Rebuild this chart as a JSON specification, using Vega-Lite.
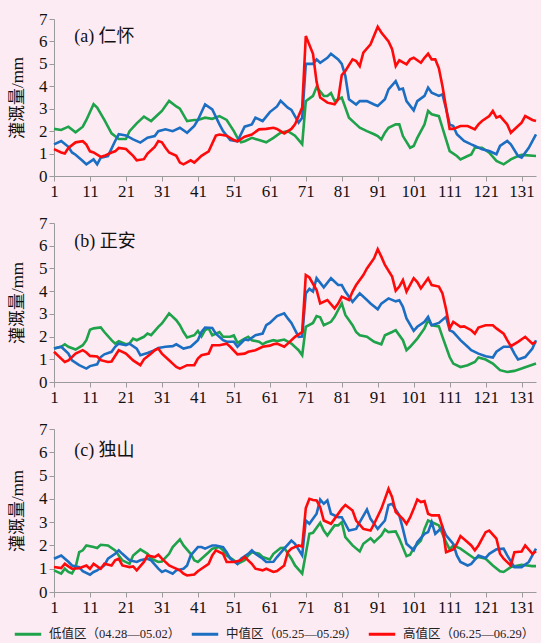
{
"$schema":"https://vega.github.io/schema/vega-lite/v6.json",
"background":"#fdebf4",
"padding":{"left":8,"top":10,"right":4,"bottom":6},
"spacing":15,
"config":{"view":{"stroke":null}},
"data":{"values":[
{"p":"a","s":"L","d":1,"v":2.1},{"p":"a","s":"L","d":3,"v":2.05},{"p":"a","s":"L","d":5,"v":2.2},{"p":"a","s":"L","d":7,"v":1.95},{"p":"a","s":"L","d":9,"v":2.2},{"p":"a","s":"L","d":10,"v":2.5},{"p":"a","s":"L","d":12,"v":3.2},{"p":"a","s":"L","d":13,"v":3.05},{"p":"a","s":"L","d":15,"v":2.5},{"p":"a","s":"L","d":16,"v":2.2},{"p":"a","s":"L","d":17,"v":1.9},{"p":"a","s":"L","d":19,"v":1.65},{"p":"a","s":"L","d":21,"v":1.65},{"p":"a","s":"L","d":22,"v":2.0},{"p":"a","s":"L","d":24,"v":2.35},{"p":"a","s":"L","d":26,"v":2.65},{"p":"a","s":"L","d":28,"v":2.45},{"p":"a","s":"L","d":30,"v":2.75},{"p":"a","s":"L","d":31,"v":2.9},{"p":"a","s":"L","d":33,"v":3.35},{"p":"a","s":"L","d":35,"v":3.1},{"p":"a","s":"L","d":36,"v":3.0},{"p":"a","s":"L","d":38,"v":2.45},{"p":"a","s":"L","d":40,"v":2.5},{"p":"a","s":"L","d":41,"v":2.5},{"p":"a","s":"L","d":43,"v":2.6},{"p":"a","s":"L","d":45,"v":2.55},{"p":"a","s":"L","d":47,"v":2.67},{"p":"a","s":"L","d":49,"v":2.5},{"p":"a","s":"L","d":51,"v":2.0},{"p":"a","s":"L","d":52,"v":1.7},{"p":"a","s":"L","d":53,"v":1.5},{"p":"a","s":"L","d":54,"v":1.55},{"p":"a","s":"L","d":56,"v":1.7},{"p":"a","s":"L","d":58,"v":1.6},{"p":"a","s":"L","d":60,"v":1.5},{"p":"a","s":"L","d":62,"v":1.7},{"p":"a","s":"L","d":64,"v":1.93},{"p":"a","s":"L","d":66,"v":2.0},{"p":"a","s":"L","d":68,"v":1.8},{"p":"a","s":"L","d":70,"v":1.42},{"p":"a","s":"L","d":71,"v":3.34},{"p":"a","s":"L","d":73,"v":3.57},{"p":"a","s":"L","d":74,"v":3.97},{"p":"a","s":"L","d":76,"v":3.57},{"p":"a","s":"L","d":77,"v":3.57},{"p":"a","s":"L","d":78,"v":3.7},{"p":"a","s":"L","d":79,"v":3.35},{"p":"a","s":"L","d":81,"v":3.5},{"p":"a","s":"L","d":82,"v":3.05},{"p":"a","s":"L","d":83,"v":2.6},{"p":"a","s":"L","d":85,"v":2.3},{"p":"a","s":"L","d":86,"v":2.15},{"p":"a","s":"L","d":88,"v":2.0},{"p":"a","s":"L","d":90,"v":1.86},{"p":"a","s":"L","d":91,"v":1.78},{"p":"a","s":"L","d":92,"v":1.63},{"p":"a","s":"L","d":93,"v":1.93},{"p":"a","s":"L","d":94,"v":2.15},{"p":"a","s":"L","d":96,"v":2.3},{"p":"a","s":"L","d":97,"v":2.3},{"p":"a","s":"L","d":98,"v":1.78},{"p":"a","s":"L","d":100,"v":1.26},{"p":"a","s":"L","d":101,"v":1.34},{"p":"a","s":"L","d":102,"v":1.7},{"p":"a","s":"L","d":104,"v":2.3},{"p":"a","s":"L","d":105,"v":2.9},{"p":"a","s":"L","d":106,"v":2.75},{"p":"a","s":"L","d":108,"v":2.67},{"p":"a","s":"L","d":109,"v":2.15},{"p":"a","s":"L","d":111,"v":1.11},{"p":"a","s":"L","d":113,"v":0.89},{"p":"a","s":"L","d":114,"v":0.74},{"p":"a","s":"L","d":116,"v":0.89},{"p":"a","s":"L","d":117,"v":0.96},{"p":"a","s":"L","d":118,"v":1.26},{"p":"a","s":"L","d":120,"v":1.26},{"p":"a","s":"L","d":122,"v":1.04},{"p":"a","s":"L","d":124,"v":0.67},{"p":"a","s":"L","d":126,"v":0.52},{"p":"a","s":"L","d":128,"v":0.74},{"p":"a","s":"L","d":130,"v":0.89},{"p":"a","s":"L","d":131,"v":0.94},{"p":"a","s":"L","d":135,"v":0.89},
{"p":"a","s":"M","d":1,"v":1.41},{"p":"a","s":"M","d":3,"v":1.56},{"p":"a","s":"M","d":5,"v":1.3},{"p":"a","s":"M","d":6,"v":1.05},{"p":"a","s":"M","d":7,"v":0.95},{"p":"a","s":"M","d":9,"v":0.67},{"p":"a","s":"M","d":10,"v":0.52},{"p":"a","s":"M","d":12,"v":0.74},{"p":"a","s":"M","d":13,"v":0.52},{"p":"a","s":"M","d":14,"v":0.82},{"p":"a","s":"M","d":16,"v":0.89},{"p":"a","s":"M","d":18,"v":1.56},{"p":"a","s":"M","d":19,"v":1.86},{"p":"a","s":"M","d":21,"v":1.81},{"p":"a","s":"M","d":23,"v":1.63},{"p":"a","s":"M","d":25,"v":1.49},{"p":"a","s":"M","d":27,"v":1.71},{"p":"a","s":"M","d":29,"v":1.78},{"p":"a","s":"M","d":30,"v":2.0},{"p":"a","s":"M","d":32,"v":2.08},{"p":"a","s":"M","d":34,"v":2.0},{"p":"a","s":"M","d":36,"v":2.15},{"p":"a","s":"M","d":38,"v":1.93},{"p":"a","s":"M","d":40,"v":2.23},{"p":"a","s":"M","d":41,"v":2.5},{"p":"a","s":"M","d":43,"v":3.19},{"p":"a","s":"M","d":45,"v":2.97},{"p":"a","s":"M","d":47,"v":2.3},{"p":"a","s":"M","d":48,"v":2.0},{"p":"a","s":"M","d":50,"v":1.6},{"p":"a","s":"M","d":52,"v":1.55},{"p":"a","s":"M","d":54,"v":2.2},{"p":"a","s":"M","d":56,"v":2.3},{"p":"a","s":"M","d":57,"v":2.6},{"p":"a","s":"M","d":59,"v":2.45},{"p":"a","s":"M","d":61,"v":2.85},{"p":"a","s":"M","d":63,"v":3.1},{"p":"a","s":"M","d":64,"v":3.35},{"p":"a","s":"M","d":66,"v":3.05},{"p":"a","s":"M","d":67,"v":2.95},{"p":"a","s":"M","d":69,"v":2.38},{"p":"a","s":"M","d":70,"v":2.6},{"p":"a","s":"M","d":71,"v":5.0},{"p":"a","s":"M","d":73,"v":5.0},{"p":"a","s":"M","d":74,"v":5.2},{"p":"a","s":"M","d":75,"v":5.05},{"p":"a","s":"M","d":77,"v":5.27},{"p":"a","s":"M","d":78,"v":5.45},{"p":"a","s":"M","d":80,"v":5.2},{"p":"a","s":"M","d":81,"v":5.0},{"p":"a","s":"M","d":82,"v":4.46},{"p":"a","s":"M","d":83,"v":3.42},{"p":"a","s":"M","d":85,"v":3.19},{"p":"a","s":"M","d":86,"v":3.34},{"p":"a","s":"M","d":88,"v":3.34},{"p":"a","s":"M","d":90,"v":3.19},{"p":"a","s":"M","d":91,"v":3.12},{"p":"a","s":"M","d":93,"v":3.42},{"p":"a","s":"M","d":94,"v":3.86},{"p":"a","s":"M","d":96,"v":4.23},{"p":"a","s":"M","d":97,"v":3.86},{"p":"a","s":"M","d":98,"v":3.9},{"p":"a","s":"M","d":99,"v":3.34},{"p":"a","s":"M","d":101,"v":2.93},{"p":"a","s":"M","d":102,"v":3.34},{"p":"a","s":"M","d":104,"v":3.57},{"p":"a","s":"M","d":105,"v":3.94},{"p":"a","s":"M","d":106,"v":3.71},{"p":"a","s":"M","d":108,"v":3.57},{"p":"a","s":"M","d":109,"v":3.64},{"p":"a","s":"M","d":110,"v":3.0},{"p":"a","s":"M","d":111,"v":2.3},{"p":"a","s":"M","d":112,"v":2.23},{"p":"a","s":"M","d":113,"v":1.86},{"p":"a","s":"M","d":115,"v":1.56},{"p":"a","s":"M","d":117,"v":1.41},{"p":"a","s":"M","d":118,"v":1.34},{"p":"a","s":"M","d":120,"v":1.19},{"p":"a","s":"M","d":122,"v":1.11},{"p":"a","s":"M","d":124,"v":0.97},{"p":"a","s":"M","d":125,"v":1.34},{"p":"a","s":"M","d":127,"v":1.56},{"p":"a","s":"M","d":128,"v":1.41},{"p":"a","s":"M","d":130,"v":0.89},{"p":"a","s":"M","d":131,"v":0.82},{"p":"a","s":"M","d":133,"v":1.26},{"p":"a","s":"M","d":135,"v":1.86},
{"p":"a","s":"H","d":1,"v":1.2},{"p":"a","s":"H","d":3,"v":1.05},{"p":"a","s":"H","d":4,"v":1.0},{"p":"a","s":"H","d":5,"v":1.25},{"p":"a","s":"H","d":7,"v":1.5},{"p":"a","s":"H","d":9,"v":1.55},{"p":"a","s":"H","d":10,"v":1.4},{"p":"a","s":"H","d":11,"v":1.1},{"p":"a","s":"H","d":12,"v":1.05},{"p":"a","s":"H","d":14,"v":0.85},{"p":"a","s":"H","d":15,"v":0.9},{"p":"a","s":"H","d":17,"v":1.05},{"p":"a","s":"H","d":18,"v":1.1},{"p":"a","s":"H","d":19,"v":1.25},{"p":"a","s":"H","d":21,"v":1.2},{"p":"a","s":"H","d":22,"v":1.05},{"p":"a","s":"H","d":23,"v":0.9},{"p":"a","s":"H","d":24,"v":0.7},{"p":"a","s":"H","d":26,"v":0.75},{"p":"a","s":"H","d":27,"v":1.0},{"p":"a","s":"H","d":29,"v":1.3},{"p":"a","s":"H","d":30,"v":1.56},{"p":"a","s":"H","d":31,"v":1.5},{"p":"a","s":"H","d":32,"v":1.26},{"p":"a","s":"H","d":33,"v":1.05},{"p":"a","s":"H","d":35,"v":0.9},{"p":"a","s":"H","d":36,"v":0.6},{"p":"a","s":"H","d":37,"v":0.52},{"p":"a","s":"H","d":39,"v":0.7},{"p":"a","s":"H","d":40,"v":0.6},{"p":"a","s":"H","d":41,"v":0.75},{"p":"a","s":"H","d":42,"v":0.9},{"p":"a","s":"H","d":44,"v":1.1},{"p":"a","s":"H","d":46,"v":1.8},{"p":"a","s":"H","d":47,"v":1.85},{"p":"a","s":"H","d":49,"v":1.8},{"p":"a","s":"H","d":51,"v":1.6},{"p":"a","s":"H","d":52,"v":1.55},{"p":"a","s":"H","d":54,"v":1.75},{"p":"a","s":"H","d":56,"v":1.85},{"p":"a","s":"H","d":58,"v":2.08},{"p":"a","s":"H","d":60,"v":2.1},{"p":"a","s":"H","d":62,"v":2.15},{"p":"a","s":"H","d":63,"v":2.1},{"p":"a","s":"H","d":65,"v":1.9},{"p":"a","s":"H","d":67,"v":2.1},{"p":"a","s":"H","d":68,"v":2.3},{"p":"a","s":"H","d":70,"v":3.05},{"p":"a","s":"H","d":71,"v":6.24},{"p":"a","s":"H","d":73,"v":5.45},{"p":"a","s":"H","d":74,"v":4.2},{"p":"a","s":"H","d":75,"v":3.5},{"p":"a","s":"H","d":77,"v":3.27},{"p":"a","s":"H","d":79,"v":3.2},{"p":"a","s":"H","d":80,"v":3.42},{"p":"a","s":"H","d":81,"v":4.5},{"p":"a","s":"H","d":82,"v":4.68},{"p":"a","s":"H","d":84,"v":5.2},{"p":"a","s":"H","d":85,"v":5.13},{"p":"a","s":"H","d":86,"v":4.9},{"p":"a","s":"H","d":87,"v":5.5},{"p":"a","s":"H","d":89,"v":5.87},{"p":"a","s":"H","d":91,"v":6.65},{"p":"a","s":"H","d":92,"v":6.4},{"p":"a","s":"H","d":94,"v":6.0},{"p":"a","s":"H","d":95,"v":5.65},{"p":"a","s":"H","d":96,"v":4.9},{"p":"a","s":"H","d":97,"v":5.16},{"p":"a","s":"H","d":99,"v":4.98},{"p":"a","s":"H","d":100,"v":5.2},{"p":"a","s":"H","d":101,"v":5.27},{"p":"a","s":"H","d":103,"v":5.05},{"p":"a","s":"H","d":104,"v":5.27},{"p":"a","s":"H","d":105,"v":5.45},{"p":"a","s":"H","d":106,"v":5.2},{"p":"a","s":"H","d":107,"v":5.2},{"p":"a","s":"H","d":108,"v":4.8},{"p":"a","s":"H","d":109,"v":4.0},{"p":"a","s":"H","d":110,"v":3.05},{"p":"a","s":"H","d":111,"v":2.1},{"p":"a","s":"H","d":112,"v":2.1},{"p":"a","s":"H","d":114,"v":2.23},{"p":"a","s":"H","d":116,"v":2.23},{"p":"a","s":"H","d":118,"v":2.08},{"p":"a","s":"H","d":119,"v":2.3},{"p":"a","s":"H","d":120,"v":2.45},{"p":"a","s":"H","d":122,"v":2.67},{"p":"a","s":"H","d":123,"v":2.9},{"p":"a","s":"H","d":124,"v":2.6},{"p":"a","s":"H","d":125,"v":2.67},{"p":"a","s":"H","d":127,"v":2.3},{"p":"a","s":"H","d":128,"v":1.93},{"p":"a","s":"H","d":130,"v":2.23},{"p":"a","s":"H","d":131,"v":2.38},{"p":"a","s":"H","d":132,"v":2.67},{"p":"a","s":"H","d":134,"v":2.5},{"p":"a","s":"H","d":135,"v":2.45},
{"p":"b","s":"L","d":1,"v":1.47},{"p":"b","s":"L","d":3,"v":1.55},{"p":"b","s":"L","d":4,"v":1.66},{"p":"b","s":"L","d":5,"v":1.55},{"p":"b","s":"L","d":7,"v":1.43},{"p":"b","s":"L","d":9,"v":1.62},{"p":"b","s":"L","d":10,"v":1.84},{"p":"b","s":"L","d":11,"v":2.3},{"p":"b","s":"L","d":12,"v":2.36},{"p":"b","s":"L","d":14,"v":2.4},{"p":"b","s":"L","d":15,"v":2.2},{"p":"b","s":"L","d":17,"v":1.84},{"p":"b","s":"L","d":18,"v":1.69},{"p":"b","s":"L","d":19,"v":1.8},{"p":"b","s":"L","d":21,"v":1.66},{"p":"b","s":"L","d":22,"v":1.7},{"p":"b","s":"L","d":23,"v":1.91},{"p":"b","s":"L","d":24,"v":1.84},{"p":"b","s":"L","d":26,"v":1.99},{"p":"b","s":"L","d":27,"v":2.13},{"p":"b","s":"L","d":28,"v":2.06},{"p":"b","s":"L","d":30,"v":2.43},{"p":"b","s":"L","d":31,"v":2.58},{"p":"b","s":"L","d":32,"v":2.8},{"p":"b","s":"L","d":33,"v":3.02},{"p":"b","s":"L","d":35,"v":2.72},{"p":"b","s":"L","d":36,"v":2.5},{"p":"b","s":"L","d":37,"v":2.2},{"p":"b","s":"L","d":38,"v":1.96},{"p":"b","s":"L","d":40,"v":2.06},{"p":"b","s":"L","d":41,"v":2.25},{"p":"b","s":"L","d":42,"v":2.0},{"p":"b","s":"L","d":43,"v":2.28},{"p":"b","s":"L","d":44,"v":2.36},{"p":"b","s":"L","d":45,"v":2.06},{"p":"b","s":"L","d":47,"v":2.2},{"p":"b","s":"L","d":48,"v":1.99},{"p":"b","s":"L","d":50,"v":1.99},{"p":"b","s":"L","d":51,"v":2.05},{"p":"b","s":"L","d":52,"v":1.72},{"p":"b","s":"L","d":54,"v":1.91},{"p":"b","s":"L","d":55,"v":1.99},{"p":"b","s":"L","d":56,"v":1.84},{"p":"b","s":"L","d":58,"v":1.77},{"p":"b","s":"L","d":59,"v":1.66},{"p":"b","s":"L","d":60,"v":1.75},{"p":"b","s":"L","d":62,"v":1.84},{"p":"b","s":"L","d":63,"v":1.8},{"p":"b","s":"L","d":65,"v":1.87},{"p":"b","s":"L","d":67,"v":1.69},{"p":"b","s":"L","d":69,"v":1.4},{"p":"b","s":"L","d":70,"v":1.18},{"p":"b","s":"L","d":71,"v":2.43},{"p":"b","s":"L","d":73,"v":2.6},{"p":"b","s":"L","d":74,"v":2.9},{"p":"b","s":"L","d":75,"v":2.85},{"p":"b","s":"L","d":76,"v":2.5},{"p":"b","s":"L","d":78,"v":2.65},{"p":"b","s":"L","d":79,"v":2.87},{"p":"b","s":"L","d":80,"v":3.17},{"p":"b","s":"L","d":81,"v":3.46},{"p":"b","s":"L","d":82,"v":2.95},{"p":"b","s":"L","d":84,"v":2.5},{"p":"b","s":"L","d":85,"v":2.2},{"p":"b","s":"L","d":86,"v":2.06},{"p":"b","s":"L","d":88,"v":1.99},{"p":"b","s":"L","d":90,"v":1.77},{"p":"b","s":"L","d":92,"v":1.66},{"p":"b","s":"L","d":93,"v":2.06},{"p":"b","s":"L","d":95,"v":2.2},{"p":"b","s":"L","d":96,"v":2.28},{"p":"b","s":"L","d":98,"v":1.84},{"p":"b","s":"L","d":99,"v":1.4},{"p":"b","s":"L","d":100,"v":1.55},{"p":"b","s":"L","d":102,"v":1.91},{"p":"b","s":"L","d":104,"v":2.36},{"p":"b","s":"L","d":105,"v":2.72},{"p":"b","s":"L","d":106,"v":2.5},{"p":"b","s":"L","d":108,"v":2.45},{"p":"b","s":"L","d":109,"v":1.99},{"p":"b","s":"L","d":111,"v":1.1},{"p":"b","s":"L","d":112,"v":0.81},{"p":"b","s":"L","d":114,"v":0.66},{"p":"b","s":"L","d":116,"v":0.74},{"p":"b","s":"L","d":118,"v":0.88},{"p":"b","s":"L","d":119,"v":1.08},{"p":"b","s":"L","d":121,"v":0.99},{"p":"b","s":"L","d":123,"v":0.81},{"p":"b","s":"L","d":125,"v":0.52},{"p":"b","s":"L","d":127,"v":0.44},{"p":"b","s":"L","d":129,"v":0.49},{"p":"b","s":"L","d":131,"v":0.59},{"p":"b","s":"L","d":135,"v":0.81},
{"p":"b","s":"M","d":1,"v":1.47},{"p":"b","s":"M","d":3,"v":1.55},{"p":"b","s":"M","d":5,"v":1.25},{"p":"b","s":"M","d":6,"v":0.95},{"p":"b","s":"M","d":8,"v":0.74},{"p":"b","s":"M","d":10,"v":0.59},{"p":"b","s":"M","d":11,"v":0.7},{"p":"b","s":"M","d":13,"v":0.78},{"p":"b","s":"M","d":14,"v":1.1},{"p":"b","s":"M","d":15,"v":1.22},{"p":"b","s":"M","d":17,"v":1.33},{"p":"b","s":"M","d":18,"v":1.55},{"p":"b","s":"M","d":19,"v":1.69},{"p":"b","s":"M","d":21,"v":1.62},{"p":"b","s":"M","d":22,"v":1.69},{"p":"b","s":"M","d":24,"v":1.47},{"p":"b","s":"M","d":25,"v":1.18},{"p":"b","s":"M","d":27,"v":1.28},{"p":"b","s":"M","d":29,"v":1.4},{"p":"b","s":"M","d":30,"v":1.5},{"p":"b","s":"M","d":32,"v":1.55},{"p":"b","s":"M","d":34,"v":1.58},{"p":"b","s":"M","d":35,"v":1.66},{"p":"b","s":"M","d":37,"v":1.47},{"p":"b","s":"M","d":39,"v":1.55},{"p":"b","s":"M","d":41,"v":1.84},{"p":"b","s":"M","d":42,"v":2.2},{"p":"b","s":"M","d":43,"v":2.4},{"p":"b","s":"M","d":45,"v":2.38},{"p":"b","s":"M","d":46,"v":2.13},{"p":"b","s":"M","d":48,"v":1.84},{"p":"b","s":"M","d":49,"v":1.77},{"p":"b","s":"M","d":51,"v":1.77},{"p":"b","s":"M","d":52,"v":1.55},{"p":"b","s":"M","d":54,"v":1.87},{"p":"b","s":"M","d":55,"v":1.84},{"p":"b","s":"M","d":57,"v":2.06},{"p":"b","s":"M","d":59,"v":2.13},{"p":"b","s":"M","d":60,"v":2.5},{"p":"b","s":"M","d":61,"v":2.6},{"p":"b","s":"M","d":63,"v":2.9},{"p":"b","s":"M","d":65,"v":3.02},{"p":"b","s":"M","d":66,"v":2.8},{"p":"b","s":"M","d":67,"v":2.6},{"p":"b","s":"M","d":69,"v":1.99},{"p":"b","s":"M","d":70,"v":2.0},{"p":"b","s":"M","d":71,"v":3.9},{"p":"b","s":"M","d":72,"v":4.1},{"p":"b","s":"M","d":73,"v":3.98},{"p":"b","s":"M","d":74,"v":4.57},{"p":"b","s":"M","d":76,"v":4.17},{"p":"b","s":"M","d":78,"v":4.57},{"p":"b","s":"M","d":80,"v":4.27},{"p":"b","s":"M","d":81,"v":4.27},{"p":"b","s":"M","d":82,"v":3.98},{"p":"b","s":"M","d":84,"v":3.53},{"p":"b","s":"M","d":86,"v":3.9},{"p":"b","s":"M","d":88,"v":3.61},{"p":"b","s":"M","d":89,"v":3.46},{"p":"b","s":"M","d":91,"v":3.2},{"p":"b","s":"M","d":92,"v":3.45},{"p":"b","s":"M","d":94,"v":3.68},{"p":"b","s":"M","d":96,"v":3.55},{"p":"b","s":"M","d":97,"v":3.6},{"p":"b","s":"M","d":98,"v":3.31},{"p":"b","s":"M","d":99,"v":2.8},{"p":"b","s":"M","d":101,"v":2.25},{"p":"b","s":"M","d":102,"v":2.43},{"p":"b","s":"M","d":104,"v":2.65},{"p":"b","s":"M","d":105,"v":2.87},{"p":"b","s":"M","d":106,"v":2.5},{"p":"b","s":"M","d":108,"v":2.6},{"p":"b","s":"M","d":110,"v":2.87},{"p":"b","s":"M","d":111,"v":2.28},{"p":"b","s":"M","d":112,"v":2.2},{"p":"b","s":"M","d":114,"v":1.84},{"p":"b","s":"M","d":116,"v":1.55},{"p":"b","s":"M","d":117,"v":1.4},{"p":"b","s":"M","d":119,"v":1.25},{"p":"b","s":"M","d":121,"v":1.13},{"p":"b","s":"M","d":123,"v":1.08},{"p":"b","s":"M","d":124,"v":1.33},{"p":"b","s":"M","d":126,"v":1.55},{"p":"b","s":"M","d":128,"v":1.55},{"p":"b","s":"M","d":129,"v":1.25},{"p":"b","s":"M","d":130,"v":0.99},{"p":"b","s":"M","d":132,"v":1.1},{"p":"b","s":"M","d":134,"v":1.47},{"p":"b","s":"M","d":135,"v":1.84},
{"p":"b","s":"H","d":1,"v":1.33},{"p":"b","s":"H","d":3,"v":1.03},{"p":"b","s":"H","d":4,"v":0.88},{"p":"b","s":"H","d":5,"v":0.95},{"p":"b","s":"H","d":7,"v":1.25},{"p":"b","s":"H","d":9,"v":1.4},{"p":"b","s":"H","d":10,"v":1.3},{"p":"b","s":"H","d":11,"v":1.15},{"p":"b","s":"H","d":13,"v":1.12},{"p":"b","s":"H","d":14,"v":0.96},{"p":"b","s":"H","d":16,"v":0.88},{"p":"b","s":"H","d":17,"v":0.9},{"p":"b","s":"H","d":19,"v":1.4},{"p":"b","s":"H","d":21,"v":1.25},{"p":"b","s":"H","d":22,"v":1.1},{"p":"b","s":"H","d":23,"v":0.95},{"p":"b","s":"H","d":25,"v":0.74},{"p":"b","s":"H","d":26,"v":1.0},{"p":"b","s":"H","d":28,"v":1.25},{"p":"b","s":"H","d":29,"v":1.4},{"p":"b","s":"H","d":30,"v":1.47},{"p":"b","s":"H","d":31,"v":1.25},{"p":"b","s":"H","d":33,"v":0.96},{"p":"b","s":"H","d":34,"v":0.81},{"p":"b","s":"H","d":35,"v":0.66},{"p":"b","s":"H","d":36,"v":0.59},{"p":"b","s":"H","d":38,"v":0.74},{"p":"b","s":"H","d":40,"v":0.74},{"p":"b","s":"H","d":41,"v":1.03},{"p":"b","s":"H","d":42,"v":1.18},{"p":"b","s":"H","d":44,"v":1.25},{"p":"b","s":"H","d":45,"v":1.62},{"p":"b","s":"H","d":47,"v":1.62},{"p":"b","s":"H","d":49,"v":1.69},{"p":"b","s":"H","d":50,"v":1.55},{"p":"b","s":"H","d":52,"v":1.22},{"p":"b","s":"H","d":54,"v":1.25},{"p":"b","s":"H","d":55,"v":1.33},{"p":"b","s":"H","d":57,"v":1.4},{"p":"b","s":"H","d":59,"v":1.55},{"p":"b","s":"H","d":61,"v":1.6},{"p":"b","s":"H","d":62,"v":1.66},{"p":"b","s":"H","d":63,"v":1.69},{"p":"b","s":"H","d":65,"v":1.55},{"p":"b","s":"H","d":66,"v":1.69},{"p":"b","s":"H","d":68,"v":1.99},{"p":"b","s":"H","d":70,"v":2.2},{"p":"b","s":"H","d":71,"v":4.71},{"p":"b","s":"H","d":72,"v":4.6},{"p":"b","s":"H","d":74,"v":4.05},{"p":"b","s":"H","d":75,"v":3.46},{"p":"b","s":"H","d":77,"v":3.61},{"p":"b","s":"H","d":79,"v":3.24},{"p":"b","s":"H","d":80,"v":3.45},{"p":"b","s":"H","d":81,"v":3.76},{"p":"b","s":"H","d":83,"v":3.61},{"p":"b","s":"H","d":84,"v":3.98},{"p":"b","s":"H","d":85,"v":4.27},{"p":"b","s":"H","d":87,"v":4.71},{"p":"b","s":"H","d":88,"v":5.0},{"p":"b","s":"H","d":90,"v":5.45},{"p":"b","s":"H","d":91,"v":5.85},{"p":"b","s":"H","d":92,"v":5.52},{"p":"b","s":"H","d":93,"v":5.15},{"p":"b","s":"H","d":95,"v":4.64},{"p":"b","s":"H","d":96,"v":4.02},{"p":"b","s":"H","d":97,"v":4.2},{"p":"b","s":"H","d":98,"v":4.49},{"p":"b","s":"H","d":99,"v":3.98},{"p":"b","s":"H","d":101,"v":4.57},{"p":"b","s":"H","d":102,"v":4.4},{"p":"b","s":"H","d":103,"v":4.12},{"p":"b","s":"H","d":105,"v":4.57},{"p":"b","s":"H","d":106,"v":4.27},{"p":"b","s":"H","d":108,"v":4.2},{"p":"b","s":"H","d":109,"v":3.9},{"p":"b","s":"H","d":110,"v":3.2},{"p":"b","s":"H","d":111,"v":2.36},{"p":"b","s":"H","d":112,"v":2.65},{"p":"b","s":"H","d":114,"v":2.43},{"p":"b","s":"H","d":115,"v":2.45},{"p":"b","s":"H","d":117,"v":2.28},{"p":"b","s":"H","d":118,"v":2.13},{"p":"b","s":"H","d":119,"v":2.4},{"p":"b","s":"H","d":121,"v":2.5},{"p":"b","s":"H","d":123,"v":2.5},{"p":"b","s":"H","d":124,"v":2.36},{"p":"b","s":"H","d":126,"v":2.13},{"p":"b","s":"H","d":127,"v":1.84},{"p":"b","s":"H","d":128,"v":1.58},{"p":"b","s":"H","d":130,"v":1.77},{"p":"b","s":"H","d":132,"v":1.99},{"p":"b","s":"H","d":134,"v":1.69},{"p":"b","s":"H","d":135,"v":1.77},
{"p":"c","s":"L","d":1,"v":0.93},{"p":"c","s":"L","d":3,"v":0.79},{"p":"c","s":"L","d":4,"v":1.0},{"p":"c","s":"L","d":5,"v":0.86},{"p":"c","s":"L","d":6,"v":0.8},{"p":"c","s":"L","d":7,"v":1.07},{"p":"c","s":"L","d":8,"v":1.71},{"p":"c","s":"L","d":9,"v":1.79},{"p":"c","s":"L","d":10,"v":2.0},{"p":"c","s":"L","d":12,"v":1.93},{"p":"c","s":"L","d":13,"v":1.89},{"p":"c","s":"L","d":14,"v":2.03},{"p":"c","s":"L","d":16,"v":2.0},{"p":"c","s":"L","d":18,"v":1.79},{"p":"c","s":"L","d":19,"v":1.57},{"p":"c","s":"L","d":20,"v":1.36},{"p":"c","s":"L","d":22,"v":1.21},{"p":"c","s":"L","d":23,"v":1.57},{"p":"c","s":"L","d":25,"v":1.83},{"p":"c","s":"L","d":27,"v":1.64},{"p":"c","s":"L","d":28,"v":1.43},{"p":"c","s":"L","d":30,"v":1.29},{"p":"c","s":"L","d":31,"v":1.31},{"p":"c","s":"L","d":33,"v":1.64},{"p":"c","s":"L","d":34,"v":1.93},{"p":"c","s":"L","d":36,"v":2.26},{"p":"c","s":"L","d":37,"v":2.0},{"p":"c","s":"L","d":39,"v":1.64},{"p":"c","s":"L","d":40,"v":1.36},{"p":"c","s":"L","d":41,"v":1.29},{"p":"c","s":"L","d":43,"v":1.57},{"p":"c","s":"L","d":44,"v":1.71},{"p":"c","s":"L","d":45,"v":1.86},{"p":"c","s":"L","d":47,"v":1.93},{"p":"c","s":"L","d":48,"v":1.79},{"p":"c","s":"L","d":49,"v":1.57},{"p":"c","s":"L","d":51,"v":1.36},{"p":"c","s":"L","d":52,"v":1.21},{"p":"c","s":"L","d":54,"v":1.36},{"p":"c","s":"L","d":55,"v":1.57},{"p":"c","s":"L","d":56,"v":1.71},{"p":"c","s":"L","d":58,"v":1.64},{"p":"c","s":"L","d":59,"v":1.5},{"p":"c","s":"L","d":61,"v":1.4},{"p":"c","s":"L","d":62,"v":1.64},{"p":"c","s":"L","d":64,"v":1.89},{"p":"c","s":"L","d":65,"v":1.9},{"p":"c","s":"L","d":67,"v":1.43},{"p":"c","s":"L","d":68,"v":1.14},{"p":"c","s":"L","d":70,"v":0.79},{"p":"c","s":"L","d":72,"v":2.5},{"p":"c","s":"L","d":73,"v":2.54},{"p":"c","s":"L","d":75,"v":2.97},{"p":"c","s":"L","d":76,"v":2.64},{"p":"c","s":"L","d":77,"v":2.43},{"p":"c","s":"L","d":79,"v":2.86},{"p":"c","s":"L","d":80,"v":2.86},{"p":"c","s":"L","d":81,"v":3.0},{"p":"c","s":"L","d":82,"v":2.36},{"p":"c","s":"L","d":84,"v":2.0},{"p":"c","s":"L","d":86,"v":1.74},{"p":"c","s":"L","d":87,"v":2.07},{"p":"c","s":"L","d":89,"v":2.31},{"p":"c","s":"L","d":90,"v":2.14},{"p":"c","s":"L","d":92,"v":2.43},{"p":"c","s":"L","d":93,"v":2.69},{"p":"c","s":"L","d":94,"v":2.57},{"p":"c","s":"L","d":96,"v":2.6},{"p":"c","s":"L","d":97,"v":2.29},{"p":"c","s":"L","d":99,"v":1.54},{"p":"c","s":"L","d":100,"v":1.6},{"p":"c","s":"L","d":101,"v":1.89},{"p":"c","s":"L","d":103,"v":2.21},{"p":"c","s":"L","d":104,"v":2.71},{"p":"c","s":"L","d":105,"v":3.07},{"p":"c","s":"L","d":107,"v":2.93},{"p":"c","s":"L","d":108,"v":2.86},{"p":"c","s":"L","d":110,"v":2.14},{"p":"c","s":"L","d":111,"v":1.83},{"p":"c","s":"L","d":112,"v":2.0},{"p":"c","s":"L","d":114,"v":1.86},{"p":"c","s":"L","d":116,"v":1.64},{"p":"c","s":"L","d":118,"v":1.43},{"p":"c","s":"L","d":119,"v":1.5},{"p":"c","s":"L","d":121,"v":1.43},{"p":"c","s":"L","d":123,"v":1.14},{"p":"c","s":"L","d":125,"v":0.89},{"p":"c","s":"L","d":126,"v":0.86},{"p":"c","s":"L","d":128,"v":1.07},{"p":"c","s":"L","d":130,"v":1.14},{"p":"c","s":"L","d":131,"v":1.17},{"p":"c","s":"L","d":134,"v":1.11},{"p":"c","s":"L","d":135,"v":1.11},
{"p":"c","s":"M","d":1,"v":1.43},{"p":"c","s":"M","d":3,"v":1.57},{"p":"c","s":"M","d":5,"v":1.3},{"p":"c","s":"M","d":6,"v":1.14},{"p":"c","s":"M","d":8,"v":1.07},{"p":"c","s":"M","d":9,"v":0.89},{"p":"c","s":"M","d":11,"v":0.74},{"p":"c","s":"M","d":12,"v":0.86},{"p":"c","s":"M","d":13,"v":0.93},{"p":"c","s":"M","d":15,"v":1.14},{"p":"c","s":"M","d":16,"v":1.43},{"p":"c","s":"M","d":18,"v":1.64},{"p":"c","s":"M","d":19,"v":1.79},{"p":"c","s":"M","d":20,"v":1.64},{"p":"c","s":"M","d":22,"v":1.36},{"p":"c","s":"M","d":24,"v":1.29},{"p":"c","s":"M","d":25,"v":1.36},{"p":"c","s":"M","d":27,"v":1.43},{"p":"c","s":"M","d":28,"v":1.36},{"p":"c","s":"M","d":30,"v":1.0},{"p":"c","s":"M","d":31,"v":0.86},{"p":"c","s":"M","d":32,"v":0.93},{"p":"c","s":"M","d":34,"v":0.79},{"p":"c","s":"M","d":35,"v":0.93},{"p":"c","s":"M","d":37,"v":1.0},{"p":"c","s":"M","d":38,"v":1.14},{"p":"c","s":"M","d":39,"v":1.57},{"p":"c","s":"M","d":41,"v":1.93},{"p":"c","s":"M","d":42,"v":1.93},{"p":"c","s":"M","d":43,"v":1.86},{"p":"c","s":"M","d":45,"v":2.0},{"p":"c","s":"M","d":46,"v":2.0},{"p":"c","s":"M","d":48,"v":1.93},{"p":"c","s":"M","d":49,"v":1.71},{"p":"c","s":"M","d":50,"v":1.43},{"p":"c","s":"M","d":52,"v":1.21},{"p":"c","s":"M","d":53,"v":1.43},{"p":"c","s":"M","d":55,"v":1.64},{"p":"c","s":"M","d":56,"v":1.79},{"p":"c","s":"M","d":57,"v":1.64},{"p":"c","s":"M","d":59,"v":1.43},{"p":"c","s":"M","d":60,"v":1.29},{"p":"c","s":"M","d":62,"v":1.3},{"p":"c","s":"M","d":63,"v":1.5},{"p":"c","s":"M","d":65,"v":1.86},{"p":"c","s":"M","d":67,"v":2.21},{"p":"c","s":"M","d":68,"v":2.07},{"p":"c","s":"M","d":70,"v":1.57},{"p":"c","s":"M","d":71,"v":3.07},{"p":"c","s":"M","d":72,"v":2.93},{"p":"c","s":"M","d":74,"v":3.36},{"p":"c","s":"M","d":75,"v":3.97},{"p":"c","s":"M","d":76,"v":3.79},{"p":"c","s":"M","d":77,"v":3.93},{"p":"c","s":"M","d":78,"v":3.36},{"p":"c","s":"M","d":80,"v":3.21},{"p":"c","s":"M","d":81,"v":3.21},{"p":"c","s":"M","d":83,"v":2.64},{"p":"c","s":"M","d":85,"v":2.71},{"p":"c","s":"M","d":86,"v":3.0},{"p":"c","s":"M","d":88,"v":3.54},{"p":"c","s":"M","d":89,"v":3.14},{"p":"c","s":"M","d":91,"v":2.71},{"p":"c","s":"M","d":93,"v":3.07},{"p":"c","s":"M","d":94,"v":3.74},{"p":"c","s":"M","d":95,"v":3.79},{"p":"c","s":"M","d":97,"v":3.29},{"p":"c","s":"M","d":98,"v":2.71},{"p":"c","s":"M","d":99,"v":2.07},{"p":"c","s":"M","d":101,"v":1.79},{"p":"c","s":"M","d":102,"v":2.14},{"p":"c","s":"M","d":104,"v":2.5},{"p":"c","s":"M","d":105,"v":2.57},{"p":"c","s":"M","d":106,"v":3.0},{"p":"c","s":"M","d":107,"v":2.5},{"p":"c","s":"M","d":109,"v":2.79},{"p":"c","s":"M","d":110,"v":2.43},{"p":"c","s":"M","d":112,"v":2.07},{"p":"c","s":"M","d":113,"v":1.57},{"p":"c","s":"M","d":114,"v":1.29},{"p":"c","s":"M","d":116,"v":1.14},{"p":"c","s":"M","d":117,"v":1.21},{"p":"c","s":"M","d":119,"v":1.57},{"p":"c","s":"M","d":121,"v":1.46},{"p":"c","s":"M","d":122,"v":1.64},{"p":"c","s":"M","d":124,"v":1.83},{"p":"c","s":"M","d":126,"v":1.86},{"p":"c","s":"M","d":127,"v":1.57},{"p":"c","s":"M","d":129,"v":1.07},{"p":"c","s":"M","d":131,"v":1.07},{"p":"c","s":"M","d":133,"v":1.29},{"p":"c","s":"M","d":135,"v":1.86},
{"p":"c","s":"H","d":1,"v":1.07},{"p":"c","s":"H","d":3,"v":1.03},{"p":"c","s":"H","d":4,"v":1.21},{"p":"c","s":"H","d":5,"v":1.1},{"p":"c","s":"H","d":6,"v":1.0},{"p":"c","s":"H","d":8,"v":1.02},{"p":"c","s":"H","d":10,"v":1.14},{"p":"c","s":"H","d":11,"v":1.0},{"p":"c","s":"H","d":12,"v":1.21},{"p":"c","s":"H","d":14,"v":1.0},{"p":"c","s":"H","d":15,"v":1.21},{"p":"c","s":"H","d":17,"v":1.14},{"p":"c","s":"H","d":18,"v":1.36},{"p":"c","s":"H","d":19,"v":1.43},{"p":"c","s":"H","d":20,"v":1.14},{"p":"c","s":"H","d":22,"v":1.07},{"p":"c","s":"H","d":23,"v":1.1},{"p":"c","s":"H","d":24,"v":0.93},{"p":"c","s":"H","d":26,"v":1.29},{"p":"c","s":"H","d":27,"v":1.57},{"p":"c","s":"H","d":29,"v":1.5},{"p":"c","s":"H","d":30,"v":1.6},{"p":"c","s":"H","d":31,"v":1.43},{"p":"c","s":"H","d":33,"v":1.14},{"p":"c","s":"H","d":34,"v":1.07},{"p":"c","s":"H","d":36,"v":0.93},{"p":"c","s":"H","d":37,"v":0.79},{"p":"c","s":"H","d":38,"v":0.71},{"p":"c","s":"H","d":40,"v":0.75},{"p":"c","s":"H","d":41,"v":0.89},{"p":"c","s":"H","d":42,"v":1.0},{"p":"c","s":"H","d":44,"v":1.21},{"p":"c","s":"H","d":45,"v":1.57},{"p":"c","s":"H","d":46,"v":1.79},{"p":"c","s":"H","d":48,"v":1.64},{"p":"c","s":"H","d":49,"v":1.29},{"p":"c","s":"H","d":51,"v":1.29},{"p":"c","s":"H","d":53,"v":1.36},{"p":"c","s":"H","d":54,"v":1.5},{"p":"c","s":"H","d":56,"v":1.21},{"p":"c","s":"H","d":57,"v":1.0},{"p":"c","s":"H","d":59,"v":0.93},{"p":"c","s":"H","d":60,"v":1.0},{"p":"c","s":"H","d":62,"v":0.86},{"p":"c","s":"H","d":63,"v":0.9},{"p":"c","s":"H","d":65,"v":1.14},{"p":"c","s":"H","d":66,"v":1.71},{"p":"c","s":"H","d":67,"v":1.86},{"p":"c","s":"H","d":69,"v":2.0},{"p":"c","s":"H","d":70,"v":1.95},{"p":"c","s":"H","d":71,"v":3.6},{"p":"c","s":"H","d":72,"v":4.0},{"p":"c","s":"H","d":73,"v":3.95},{"p":"c","s":"H","d":74,"v":3.93},{"p":"c","s":"H","d":75,"v":3.64},{"p":"c","s":"H","d":76,"v":3.07},{"p":"c","s":"H","d":78,"v":2.93},{"p":"c","s":"H","d":79,"v":3.14},{"p":"c","s":"H","d":81,"v":3.57},{"p":"c","s":"H","d":82,"v":3.74},{"p":"c","s":"H","d":84,"v":3.5},{"p":"c","s":"H","d":85,"v":3.07},{"p":"c","s":"H","d":87,"v":2.71},{"p":"c","s":"H","d":89,"v":2.64},{"p":"c","s":"H","d":90,"v":2.93},{"p":"c","s":"H","d":92,"v":3.57},{"p":"c","s":"H","d":93,"v":4.0},{"p":"c","s":"H","d":94,"v":4.43},{"p":"c","s":"H","d":95,"v":4.07},{"p":"c","s":"H","d":96,"v":3.43},{"p":"c","s":"H","d":98,"v":3.14},{"p":"c","s":"H","d":99,"v":2.93},{"p":"c","s":"H","d":100,"v":3.2},{"p":"c","s":"H","d":101,"v":3.57},{"p":"c","s":"H","d":102,"v":3.97},{"p":"c","s":"H","d":103,"v":3.86},{"p":"c","s":"H","d":104,"v":3.9},{"p":"c","s":"H","d":105,"v":3.36},{"p":"c","s":"H","d":106,"v":3.29},{"p":"c","s":"H","d":108,"v":3.29},{"p":"c","s":"H","d":109,"v":2.79},{"p":"c","s":"H","d":110,"v":1.71},{"p":"c","s":"H","d":112,"v":1.83},{"p":"c","s":"H","d":113,"v":2.07},{"p":"c","s":"H","d":114,"v":2.4},{"p":"c","s":"H","d":116,"v":2.14},{"p":"c","s":"H","d":117,"v":2.0},{"p":"c","s":"H","d":118,"v":1.79},{"p":"c","s":"H","d":119,"v":2.0},{"p":"c","s":"H","d":121,"v":2.57},{"p":"c","s":"H","d":122,"v":2.64},{"p":"c","s":"H","d":124,"v":2.29},{"p":"c","s":"H","d":125,"v":1.64},{"p":"c","s":"H","d":126,"v":1.43},{"p":"c","s":"H","d":128,"v":1.14},{"p":"c","s":"H","d":129,"v":1.71},{"p":"c","s":"H","d":131,"v":1.74},{"p":"c","s":"H","d":132,"v":2.0},{"p":"c","s":"H","d":134,"v":1.64},{"p":"c","s":"H","d":135,"v":1.75}
]},
"vconcat":[
 {"width":482,"height":157,
  "layer":[
   {"data":{"values":[{"t":"(a) 仁怀"}]},
    "mark":{"type":"text","align":"left","baseline":"middle","fontSize":18,"font":"Liberation Serif, Noto Sans CJK SC","color":"#111"},
    "encoding":{
     "x":{"datum":6.6,"type":"quantitative","scale":{"domain":[1,135],"nice":false,"zero":false},"axis":{"values":[1,11,21,31,41,51,61,71,81,91,101,111,121,131],"title":null,"grid":false,"domainColor":"#9b9b9b","tickColor":"#9b9b9b","tickSize":5,"labelFont":"Liberation Serif","labelFontSize":17,"labelColor":"#111","labelPadding":2,"labelFlush":false,"labelOverlap":false}},
     "y":{"datum":6.2,"type":"quantitative","scale":{"domain":[0,7],"nice":false},"axis":{"values":[0,1,2,3,4,5,6,7],"title":"灌溉量/mm","titlePadding":12,"grid":false,"domainColor":"#9b9b9b","tickColor":"#9b9b9b","tickSize":5,"labelFont":"Liberation Serif","labelFontSize":17,"labelColor":"#111","labelPadding":2,"labelFlush":false,"labelOverlap":false,"titleFont":"Liberation Serif, Noto Sans CJK SC","titleFontSize":17,"titleFontWeight":"normal","titleColor":"#111"}},
     "text":{"field":"t"}}},
   {"transform":[{"filter":"datum.p=='a'"}],
    "mark":{"type":"line","strokeWidth":2.6},
    "encoding":{
     "x":{"field":"d","type":"quantitative","scale":{"domain":[1,135],"nice":false,"zero":false},"axis":{"values":[1,11,21,31,41,51,61,71,81,91,101,111,121,131],"title":null,"grid":false,"domainColor":"#9b9b9b","tickColor":"#9b9b9b","tickSize":5,"labelFont":"Liberation Serif","labelFontSize":17,"labelColor":"#111","labelPadding":2,"labelFlush":false,"labelOverlap":false}},
     "y":{"field":"v","type":"quantitative","scale":{"domain":[0,7],"nice":false},"axis":{"values":[0,1,2,3,4,5,6,7],"title":"灌溉量/mm","titlePadding":12,"grid":false,"domainColor":"#9b9b9b","tickColor":"#9b9b9b","tickSize":5,"labelFont":"Liberation Serif","labelFontSize":17,"labelColor":"#111","labelPadding":2,"labelFlush":false,"labelOverlap":false,"titleFont":"Liberation Serif, Noto Sans CJK SC","titleFontSize":17,"titleFontWeight":"normal","titleColor":"#111"}},
     "color":{"field":"s","type":"nominal","scale":{"domain":["L","M","H"],"range":["#1ea24a","#1b6ec2","#fe0a0a"]},"legend":{"orient":"none","legendX":-41,"legendY":600,"direction":"horizontal","title":null,"labelFont":"Liberation Serif, Noto Sans CJK SC","labelFontSize":12.5,"labelColor":"#222","symbolType":"stroke","symbolStrokeWidth":3,"symbolSize":700,"columnPadding":4,"labelOffset":6,"labelLimit":300,"labelExpr":"datum.label=='L'?'低值区（04.28—05.02）':datum.label=='M'?'中值区（05.25—05.29）':'高值区（06.25—06.29）'"}}
    }}
  ]},
 {"width":482,"height":159,
  "layer":[
   {"data":{"values":[{"t":"(b) 正安"}]},
    "mark":{"type":"text","align":"left","baseline":"middle","fontSize":18,"font":"Liberation Serif, Noto Sans CJK SC","color":"#111"},
    "encoding":{
     "x":{"datum":6.6,"type":"quantitative","scale":{"domain":[1,135],"nice":false,"zero":false},"axis":{"values":[1,11,21,31,41,51,61,71,81,91,101,111,121,131],"title":null,"grid":false,"domainColor":"#9b9b9b","tickColor":"#9b9b9b","tickSize":5,"labelFont":"Liberation Serif","labelFontSize":17,"labelColor":"#111","labelPadding":2,"labelFlush":false,"labelOverlap":false}},
     "y":{"datum":6.15,"type":"quantitative","scale":{"domain":[0,7],"nice":false},"axis":{"values":[0,1,2,3,4,5,6,7],"title":"灌溉量/mm","titlePadding":12,"grid":false,"domainColor":"#9b9b9b","tickColor":"#9b9b9b","tickSize":5,"labelFont":"Liberation Serif","labelFontSize":17,"labelColor":"#111","labelPadding":2,"labelFlush":false,"labelOverlap":false,"titleFont":"Liberation Serif, Noto Sans CJK SC","titleFontSize":17,"titleFontWeight":"normal","titleColor":"#111"}},
     "text":{"field":"t"}}},
   {"transform":[{"filter":"datum.p=='b'"}],
    "mark":{"type":"line","strokeWidth":2.6},
    "encoding":{
     "x":{"field":"d","type":"quantitative","scale":{"domain":[1,135],"nice":false,"zero":false},"axis":{"values":[1,11,21,31,41,51,61,71,81,91,101,111,121,131],"title":null,"grid":false,"domainColor":"#9b9b9b","tickColor":"#9b9b9b","tickSize":5,"labelFont":"Liberation Serif","labelFontSize":17,"labelColor":"#111","labelPadding":2,"labelFlush":false,"labelOverlap":false}},
     "y":{"field":"v","type":"quantitative","scale":{"domain":[0,7],"nice":false},"axis":{"values":[0,1,2,3,4,5,6,7],"title":"灌溉量/mm","titlePadding":12,"grid":false,"domainColor":"#9b9b9b","tickColor":"#9b9b9b","tickSize":5,"labelFont":"Liberation Serif","labelFontSize":17,"labelColor":"#111","labelPadding":2,"labelFlush":false,"labelOverlap":false,"titleFont":"Liberation Serif, Noto Sans CJK SC","titleFontSize":17,"titleFontWeight":"normal","titleColor":"#111"}},
     "color":{"field":"s","type":"nominal","scale":{"domain":["L","M","H"],"range":["#1ea24a","#1b6ec2","#fe0a0a"]},"legend":null}
    }}
  ]},
 {"width":482,"height":163,
  "layer":[
   {"data":{"values":[{"t":"(c) 独山"}]},
    "mark":{"type":"text","align":"left","baseline":"middle","fontSize":18,"font":"Liberation Serif, Noto Sans CJK SC","color":"#111"},
    "encoding":{
     "x":{"datum":6.6,"type":"quantitative","scale":{"domain":[1,135],"nice":false,"zero":false},"axis":{"values":[1,11,21,31,41,51,61,71,81,91,101,111,121,131],"title":null,"grid":false,"domainColor":"#9b9b9b","tickColor":"#9b9b9b","tickSize":5,"labelFont":"Liberation Serif","labelFontSize":17,"labelColor":"#111","labelPadding":2,"labelFlush":false,"labelOverlap":false}},
     "y":{"datum":6.05,"type":"quantitative","scale":{"domain":[0,7],"nice":false},"axis":{"values":[0,1,2,3,4,5,6,7],"title":"灌溉量/mm","titlePadding":12,"grid":false,"domainColor":"#9b9b9b","tickColor":"#9b9b9b","tickSize":5,"labelFont":"Liberation Serif","labelFontSize":17,"labelColor":"#111","labelPadding":2,"labelFlush":false,"labelOverlap":false,"titleFont":"Liberation Serif, Noto Sans CJK SC","titleFontSize":17,"titleFontWeight":"normal","titleColor":"#111"}},
     "text":{"field":"t"}}},
   {"transform":[{"filter":"datum.p=='c'"}],
    "mark":{"type":"line","strokeWidth":2.6},
    "encoding":{
     "x":{"field":"d","type":"quantitative","scale":{"domain":[1,135],"nice":false,"zero":false},"axis":{"values":[1,11,21,31,41,51,61,71,81,91,101,111,121,131],"title":null,"grid":false,"domainColor":"#9b9b9b","tickColor":"#9b9b9b","tickSize":5,"labelFont":"Liberation Serif","labelFontSize":17,"labelColor":"#111","labelPadding":2,"labelFlush":false,"labelOverlap":false}},
     "y":{"field":"v","type":"quantitative","scale":{"domain":[0,7],"nice":false},"axis":{"values":[0,1,2,3,4,5,6,7],"title":"灌溉量/mm","titlePadding":12,"grid":false,"domainColor":"#9b9b9b","tickColor":"#9b9b9b","tickSize":5,"labelFont":"Liberation Serif","labelFontSize":17,"labelColor":"#111","labelPadding":2,"labelFlush":false,"labelOverlap":false,"titleFont":"Liberation Serif, Noto Sans CJK SC","titleFontSize":17,"titleFontWeight":"normal","titleColor":"#111"}},
     "color":{"field":"s","type":"nominal","scale":{"domain":["L","M","H"],"range":["#1ea24a","#1b6ec2","#fe0a0a"]},"legend":null}
    }}
  ]}
]
}
